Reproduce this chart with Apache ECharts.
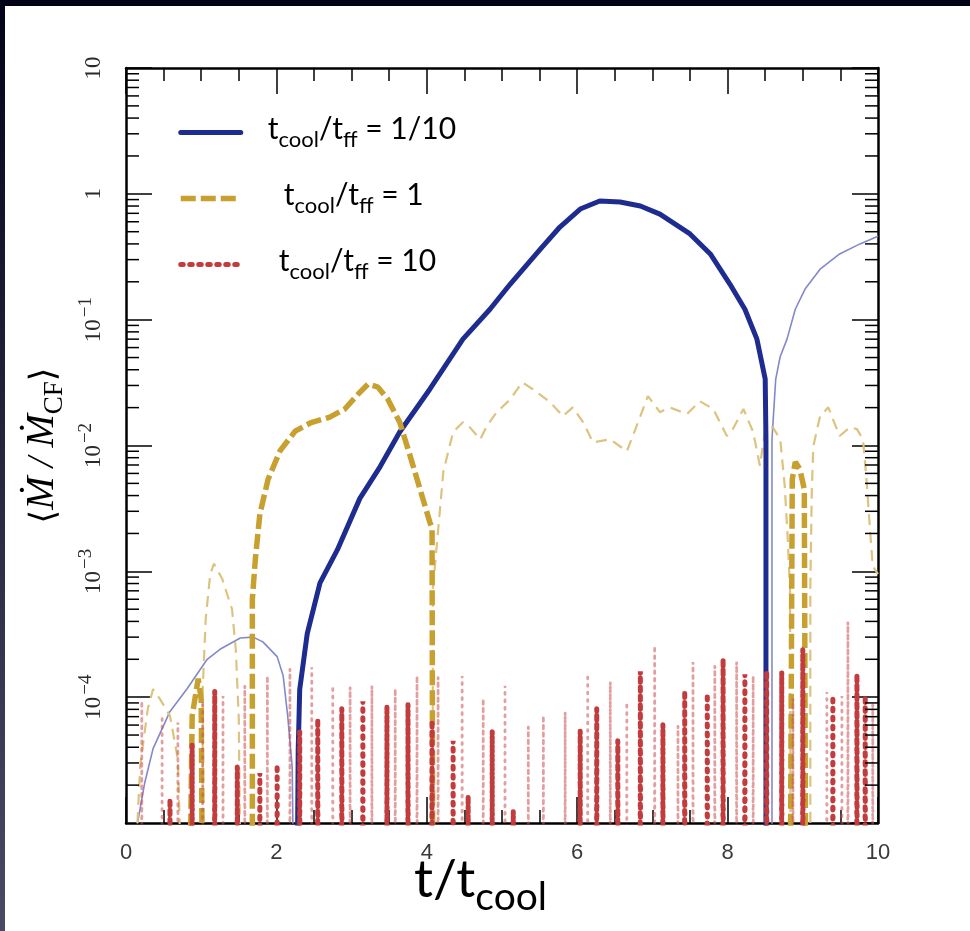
<!DOCTYPE html>
<html>
<head>
<meta charset="utf-8">
<script src="https://cdn.jsdelivr.net/npm/echarts@6/dist/echarts.min.js"></script>
<style>
  html, body { margin: 0; padding: 0; background: #fff; }
  #chart { width: 970px; height: 931px; }
</style>
</head>
<body>
<div id="chart"></div>
<script>
// Time in units of t_cool; accretion rate normalised by the cooling-flow rate.
// Values below 1e-5 lie under the bottom of the axis.

const xTickLabels = ['0', '2', '4', '6', '8', '10'];
const yTickExponents = [-5, -4, -3, -2, -1, 0, 1];
const minorMultipliers = [2, 3, 4, 5, 6, 7, 8, 9];

const NAME_FAST = 'tcool/tff = 1/10';
const NAME_MID = 'tcool/tff = 1';
const NAME_SLOW = 'tcool/tff = 10';

// tcool/tff = 1/10 — thick: inflow, thin: outflow
const blueThick = [
  [2.27, 1e-6], [2.29, 3.8e-5], [2.31, 1.15e-4], [2.41, 3.2e-4], [2.58, 8.1e-4],
  [2.81, 1.48e-3], [3.11, 3.8e-3], [3.38, 6.8e-3], [3.64, 1.28e-2], [4.04, 2.8e-2],
  [4.48, 7.0e-2], [4.84, 0.121], [5.11, 0.192], [5.51, 0.364], [5.77, 0.545],
  [6.04, 0.757], [6.30, 0.877], [6.57, 0.86], [6.84, 0.80], [7.10, 0.69],
  [7.50, 0.48], [7.77, 0.333], [8.03, 0.192], [8.23, 0.121], [8.39, 0.070],
  [8.50, 0.0337], [8.51, 0.0112], [8.51, 1e-6]
];
const blueThinA = [
  [0.14, 9e-6], [0.25, 2.1e-5], [0.36, 3.9e-5], [0.585, 7.7e-5], [0.81, 1.16e-4],
  [1.08, 2.0e-4], [1.25, 2.4e-4], [1.52, 2.95e-4], [1.69, 3.0e-4], [1.82, 2.75e-4],
  [2.01, 2.1e-4], [2.09, 1.48e-4], [2.15, 7.1e-5], [2.21, 2.8e-5], [2.24, 1e-6]
];
const blueThinB = [
  [8.59, 1e-6], [8.59, 0.0112], [8.64, 0.0337], [8.70, 0.051], [8.79, 0.070],
  [8.90, 0.121], [9.03, 0.175], [9.23, 0.252], [9.49, 0.333], [9.76, 0.40], [10.0, 0.46]
];

// tcool/tff = 1
const goldThickA = [[0.84, 1e-6], [0.88, 7.1e-5], [0.96, 1.4e-4], [1.0, 9.7e-5], [1.02, 1e-6]];
const goldThickB = [
  [1.68, 1e-6], [1.68, 6.0e-4], [1.72, 1.25e-3], [1.78, 2.85e-3], [1.89, 5.4e-3],
  [2.05, 9.1e-3], [2.25, 1.3e-2], [2.45, 1.51e-2], [2.71, 1.68e-2], [2.91, 1.95e-2],
  [3.09, 2.57e-2], [3.22, 3.08e-2], [3.35, 2.91e-2], [3.48, 2.34e-2], [3.64, 1.53e-2],
  [3.78, 8.2e-3], [3.91, 4.5e-3], [4.04, 2.46e-3], [4.07, 2.2e-3], [4.08, 1e-6]
];
const goldThickC = [[8.83, 1e-6], [8.86, 5.4e-3], [8.90, 7.4e-3], [8.96, 6.5e-3], [9.02, 4.5e-3], [9.04, 1e-6]];
const goldThinA = [
  [0.07, 1e-6], [0.19, 2.9e-5], [0.29, 8.1e-5], [0.36, 1.16e-4], [0.45, 9.7e-5],
  [0.585, 7.1e-5], [0.69, 3.2e-5], [0.76, 1e-6]
];
const goldThinB = [
  [1.02, 1e-6], [1.02, 1.16e-4], [1.06, 4.2e-4], [1.12, 9.5e-4], [1.17, 1.15e-3],
  [1.28, 8.7e-4], [1.41, 5.0e-4], [1.46, 2.4e-4], [1.50, 6.7e-5], [1.53, 1e-6]
];
const goldThinC = [
  [4.08, 1e-6], [4.08, 7.2e-4], [4.14, 1.8e-3], [4.22, 6.2e-3], [4.35, 1.28e-2],
  [4.48, 1.53e-2], [4.57, 1.4e-2], [4.71, 1.12e-2], [4.80, 1.43e-2], [4.93, 1.84e-2],
  [5.11, 2.33e-2], [5.27, 3.18e-2], [5.41, 2.8e-2], [5.64, 2.21e-2], [5.81, 1.71e-2],
  [5.94, 2.01e-2], [6.08, 1.53e-2], [6.21, 1.06e-2], [6.44, 1.12e-2], [6.66, 9.0e-3],
  [6.84, 1.71e-2], [6.94, 2.47e-2], [7.10, 1.84e-2], [7.23, 2.01e-2], [7.46, 1.78e-2],
  [7.63, 2.25e-2], [7.81, 1.95e-2], [7.99, 1.19e-2], [8.07, 1.35e-2], [8.21, 1.95e-2],
  [8.34, 1.28e-2], [8.43, 6.9e-3], [8.50, 1.35e-2], [8.60, 1.4e-2], [8.70, 1.12e-2],
  [8.76, 4.75e-3], [8.80, 1.8e-3], [8.83, 7.2e-4], [8.84, 1e-6]
];
const goldThinD = [
  [9.10, 1e-6], [9.10, 7.2e-4], [9.12, 4.5e-3], [9.14, 9.9e-3], [9.23, 1.71e-2],
  [9.34, 2.01e-2], [9.40, 1.62e-2], [9.49, 1.19e-2], [9.63, 1.4e-2], [9.72, 1.35e-2],
  [9.80, 1.12e-2], [9.85, 5.1e-3], [9.89, 2.3e-3], [9.93, 1.1e-3], [10.0, 9.5e-4]
];

// tcool/tff = 10 — short bursts; each entry is the peak of one burst
const redThickPeaks = [
  [0.585, 1.55e-5], [0.88, 4.2e-5], [1.18, 1.12e-4], [1.48, 2.8e-5], [1.78, 2.5e-5],
  [2.01, 2.9e-5], [2.31, 5.3e-5], [2.55, 6.7e-5], [2.87, 8.1e-5], [3.15, 9.3e-5],
  [3.47, 8.5e-5], [3.75, 8.8e-5], [4.07, 6.5e-5], [4.35, 4.5e-5], [4.55, 1.64e-5],
  [4.87, 5.4e-5], [5.15, 1.25e-5], [6.04, 5.4e-5], [6.26, 8.1e-5], [6.54, 4.5e-5],
  [6.84, 1.61e-4], [7.14, 6.1e-5], [7.43, 1.12e-4], [7.73, 1.06e-4], [7.94, 2.01e-4],
  [8.23, 1.52e-4], [8.52, 1.61e-4], [8.72, 1.58e-4], [9.00, 2.41e-4], [9.40, 1.02e-4],
  [9.72, 1.52e-4], [9.83, 1.02e-4]
];
const redThinPeaks = [
  [0.21, 9.3e-5], [0.48, 7.1e-5], [0.69, 6.3e-5], [1.02, 9.3e-5], [1.29, 1.02e-4],
  [1.58, 1.23e-4], [1.88, 1.47e-4], [2.18, 1.67e-4], [2.47, 1.73e-4], [2.75, 1.23e-4],
  [2.98, 1.2e-4], [3.27, 1.23e-4], [3.58, 1.16e-4], [3.87, 1.47e-4], [4.15, 1.44e-4],
  [4.47, 1.47e-4], [4.75, 9.7e-5], [5.04, 1.23e-4], [5.35, 5.8e-5], [5.55, 7.1e-5],
  [5.84, 7.6e-5], [6.14, 1.52e-4], [6.44, 1.32e-4], [6.66, 9.1e-5], [7.03, 2.55e-4],
  [7.34, 5.9e-5], [7.54, 1.9e-4], [7.83, 1.77e-4], [8.12, 1.9e-4], [8.34, 1.47e-4],
  [8.87, 9.7e-5], [9.32, 1.1e-4], [9.52, 1.02e-4], [9.60, 3.95e-4], [9.93, 8.8e-5]
];

// Between bursts the rate falls to (effectively) zero, far under the axis floor.
const ZERO_RATE = 1e-12;
const BURST_HALF_WIDTH = 0.012;
function bursts(peaks) {
  const out = [];
  peaks.forEach(([t, v]) => {
    out.push([t - BURST_HALF_WIDTH, ZERO_RATE], [t, v], [t + BURST_HALF_WIDTH, ZERO_RATE]);
  });
  return out;
}

const SANS = "Lato, 'Open Sans', sans-serif";
const SERIF = "'Liberation Serif', 'DejaVu Serif', serif";

const styles = {
  blueThick: { color: '#1f2c8f', width: 5, type: 'solid', cap: 'round', join: 'round' },
  blueThin: { color: '#8289cb', width: 1.6, type: 'solid' },
  goldThick: { color: '#c8a030', width: 5.5, type: [15, 5], cap: 'butt' },
  goldThin: { color: '#dcc37f', width: 2.2, type: [11, 7], cap: 'butt' },
  redThick: { color: '#c23b3d', width: 5, type: [2.5, 6.5], cap: 'round' },
  redThin: { color: 'rgba(204,80,80,0.55)', width: 2.8, type: [1.5, 6], cap: 'round' }
};

function lineSeries(name, data, style, z) {
  return {
    type: 'line', name, data, z,
    symbol: 'none', showSymbol: false, silent: true, animation: false,
    xAxisIndex: 0, yAxisIndex: 0,
    itemStyle: { color: style.color },
    lineStyle: style
  };
}

const minorTickValues = [];
yTickExponents.slice(0, -1).forEach(e => {
  minorMultipliers.forEach(m => minorTickValues.push([0, m * Math.pow(10, e)]));
});

const MAJOR_TICK = 26;
const MINOR_TICK = 13;
const INK = '#000';

function yLabel(value) {
  const e = Math.round(Math.log10(value));
  if (e === 0) return '{n|1}';
  if (e === 1) return '{n|10}';
  return '{n|10}{s|\u2212' + (-e) + '}';
}

function xAxisBase(position, showLabels) {
  return {
    type: 'value', position, min: 0, max: 10, interval: 2, gridIndex: 0,
    axisLine: { show: true, onZero: false, lineStyle: { color: INK, width: 2.5 } },
    axisTick: { show: true, inside: true, length: MAJOR_TICK, lineStyle: { color: INK, width: 1.5 } },
    minorTick: { show: true, splitNumber: 4, length: MINOR_TICK, lineStyle: { color: INK, width: 1.5 } },
    splitLine: { show: false },
    minorSplitLine: { show: false },
    axisLabel: {
      show: showLabels, margin: 19, fontSize: 22, color: '#3a3a3a',
      fontFamily: "'Liberation Sans', sans-serif",
      formatter: v => xTickLabels[Math.round(v / 2)]
    }
  };
}

function yAxisBase(position, showLabels) {
  return {
    type: 'log', logBase: 10, position, min: 1e-5, max: 10, splitNumber: 6, gridIndex: 0,
    axisLine: { show: true, onZero: false, lineStyle: { color: INK, width: 2.5 } },
    axisTick: { show: true, inside: true, length: MAJOR_TICK, lineStyle: { color: INK, width: 1.5 } },
    splitLine: { show: false },
    axisLabel: {
      show: showLabels, rotate: 90, margin: 21, showMinLabel: false, showMaxLabel: true,
      fontFamily: SERIF, fontSize: 23, color: '#2a2a2a',
      formatter: yLabel,
      rich: {
        n: { fontFamily: SERIF, fontSize: 23, color: '#2a2a2a', verticalAlign: 'bottom' },
        s: { fontFamily: SERIF, fontSize: 19, color: '#2a2a2a', verticalAlign: 'bottom', padding: [0, 0, 9, 2] }
      }
    }
  };
}

const legendPad = { [NAME_FAST]: 'p1', [NAME_MID]: 'p2', [NAME_SLOW]: 'p3' };
const legendRatio = { [NAME_FAST]: '1/10', [NAME_MID]: '1', [NAME_SLOW]: '10' };
const bigText = { fontFamily: SANS, fontSize: 30, color: '#000', verticalAlign: 'bottom' };
const subText = { fontFamily: SANS, fontSize: 22, color: '#000', verticalAlign: 'bottom' };

const yName = '{b|\u27E8}{m|\u1E40}{n| / }{m|\u1E40}{s|CF}{b|\u27E9}';

const option = {
  backgroundColor: '#ffffff',
  animation: false,
  grid: { left: 126, right: 92, top: 68, bottom: 108 },
  title: {
    text: '{a|t/t}{b|cool}',
    left: 414, top: 853, padding: 0,
    textStyle: {
      fontWeight: 'normal',
      rich: {
        a: { fontFamily: SANS, fontWeight: 'normal', fontSize: 53, color: '#000', verticalAlign: 'bottom', padding: [0, 0, 11, 0] },
        b: { fontFamily: SANS, fontWeight: 'normal', fontSize: 39, color: '#000', verticalAlign: 'bottom' }
      }
    }
  },
  legend: {
    data: [NAME_FAST, NAME_MID, NAME_SLOW],
    orient: 'vertical', left: 178, top: 114, padding: 0,
    itemWidth: 60, itemHeight: 14, itemGap: 29,
    selectedMode: false,
    itemStyle: { opacity: 0 },
    lineStyle: { width: 'inherit', type: 'inherit', cap: 'inherit', opacity: 1 },
    formatter: name => '{' + legendPad[name] + '|t}{s|cool}{a|/t}{s|ff}{a| = ' + legendRatio[name] + '}',
    textStyle: {
      rich: {
        a: Object.assign({}, bigText, { padding: [0, 0, 7, 0] }),
        p1: Object.assign({}, bigText, { padding: [0, 0, 7, 22] }),
        p2: Object.assign({}, bigText, { padding: [0, 0, 7, 38] }),
        p3: Object.assign({}, bigText, { padding: [0, 0, 7, 33] }),
        s: subText
      }
    }
  },
  xAxis: [xAxisBase('bottom', true), xAxisBase('top', false)],
  yAxis: [
    Object.assign(yAxisBase('left', true), {
      name: yName, nameLocation: 'middle', nameRotate: 90, nameGap: 58,
      nameTextStyle: {
        rich: {
          b: { fontFamily: "'DejaVu Serif', serif", fontSize: 35, color: '#000', verticalAlign: 'bottom', padding: [0, 0, 6, 0] },
          m: { fontFamily: SERIF, fontStyle: 'italic', fontSize: 40, color: '#000', verticalAlign: 'bottom', padding: [0, 0, 6, 0] },
          n: { fontFamily: SERIF, fontStyle: 'italic', fontSize: 37, color: '#000', verticalAlign: 'bottom', padding: [0, 0, 6, 0] },
          s: { fontFamily: SERIF, fontSize: 27, color: '#000', verticalAlign: 'bottom' }
        }
      }
    }),
    yAxisBase('right', false)
  ],
  graphic: [
    { type: 'rect', left: 0, top: 0, z: -10, silent: true, shape: { width: 970, height: 6 }, style: { fill: '#030318' } },
    {
      type: 'rect', left: 0, top: 0, z: -10, silent: true, shape: { width: 5, height: 931 },
      style: { fill: new echarts.graphic.LinearGradient(0, 0, 0, 1, [{ offset: 0, color: '#030318' }, { offset: 1, color: '#4a4a68' }]) }
    }
  ],
  series: [
    lineSeries('blue-thin-a', blueThinA, styles.blueThin, 2),
    lineSeries('blue-thin-b', blueThinB, styles.blueThin, 2),
    lineSeries('gold-thin-a', goldThinA, styles.goldThin, 2),
    lineSeries('gold-thin-b', goldThinB, styles.goldThin, 2),
    lineSeries('gold-thin-c', goldThinC, styles.goldThin, 2),
    lineSeries('gold-thin-d', goldThinD, styles.goldThin, 2),
    lineSeries(NAME_FAST, blueThick, styles.blueThick, 3),
    lineSeries(NAME_MID, goldThickB, styles.goldThick, 4),
    lineSeries('gold-thick-a', goldThickA, styles.goldThick, 4),
    lineSeries('gold-thick-c', goldThickC, styles.goldThick, 4),
    lineSeries('red-thin', bursts(redThinPeaks), styles.redThin, 5),
    lineSeries(NAME_SLOW, bursts(redThickPeaks), styles.redThick, 6),
    {
      type: 'custom', name: 'minor-log-ticks', xAxisIndex: 0, yAxisIndex: 0,
      silent: true, clip: false, z: 7, animation: false,
      data: minorTickValues,
      renderItem: (params, api) => {
        const cs = params.coordSys;
        const y = api.coord([0, api.value(1)])[1];
        const st = { stroke: INK, lineWidth: 1.5 };
        return {
          type: 'group',
          children: [
            { type: 'line', shape: { x1: cs.x, y1: y, x2: cs.x + MINOR_TICK, y2: y }, style: st },
            { type: 'line', shape: { x1: cs.x + cs.width - MINOR_TICK, y1: y, x2: cs.x + cs.width, y2: y }, style: st }
          ]
        };
      }
    }
  ]
};

const chart = echarts.init(document.getElementById('chart'), null, { renderer: 'canvas' });
chart.setOption(option);
</script>
</body>
</html>
